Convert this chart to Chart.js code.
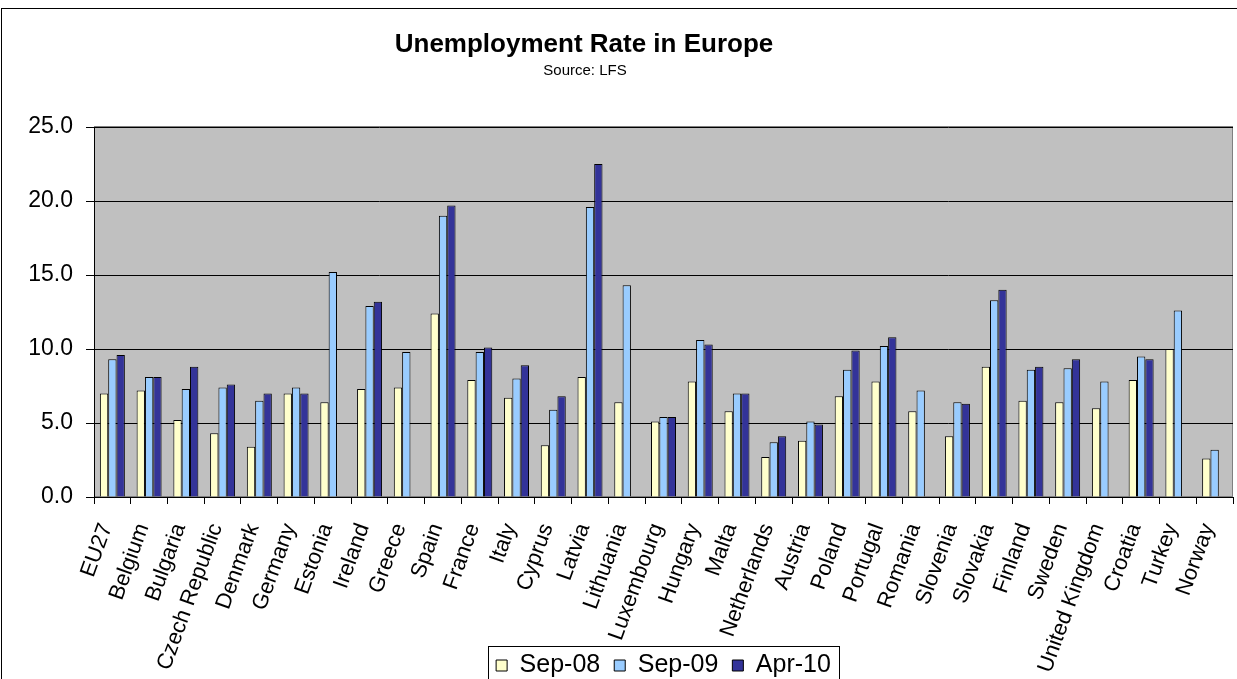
<!DOCTYPE html>
<html>
<head>
<meta charset="utf-8">
<title>Unemployment Rate in Europe</title>
<script src="https://cdn.jsdelivr.net/npm/chart.js@4.4.1/dist/chart.umd.min.js"></script>
<style>
  html, body { margin: 0; padding: 0; background: #fff; overflow: hidden; }
  #wrap { position: relative; width: 1237px; height: 688px; }
</style>
</head>
<body>
<div id="wrap"><canvas id="chart" width="1237" height="688"></canvas></div>
<script>
const categories = ["EU27", "Belgium", "Bulgaria", "Czech Republic", "Denmark", "Germany", "Estonia", "Ireland", "Greece", "Spain",
  "France", "Italy", "Cyprus", "Latvia", "Lithuania", "Luxembourg", "Hungary", "Malta", "Netherlands", "Austria",
  "Poland", "Portugal", "Romania", "Slovenia", "Slovakia", "Finland", "Sweden", "United Kingdom", "Croatia", "Turkey", "Norway"];

const sep08 = [7.0, 7.2, 5.2, 4.3, 3.4, 7.0, 6.4, 7.3, 7.4, 12.4, 7.9, 6.7, 3.5, 8.1, 6.4, 5.1, 7.8, 5.8, 2.7, 3.8,
  6.8, 7.8, 5.8, 4.1, 8.8, 6.5, 6.4, 6.0, 7.9, 10.0, 2.6];
const sep09 = [9.3, 8.1, 7.3, 7.4, 6.5, 7.4, 15.2, 12.9, 9.8, 19.0, 9.8, 8.0, 5.9, 19.6, 14.3, 5.4, 10.6, 7.0, 3.7, 5.1,
  8.6, 10.2, 7.2, 6.4, 13.3, 8.6, 8.7, 7.8, 9.5, 12.6, 3.2];
const apr10 = [9.6, 8.1, 8.8, 7.6, 7.0, 7.0, null, 13.2, null, 19.7, 10.1, 8.9, 6.8, 22.5, null, 5.4, 10.3, 7.0, 4.1, 4.9,
  9.9, 10.8, null, 6.3, 14.0, 8.8, 9.3, null, 9.3, null, null];

const seriesNames = ["Sep-08", "Sep-09", "Apr-10"];
const yTicks = [0, 5, 10, 15, 20, 25];

const chartTitle = "Unemployment Rate in Europe";
const chartSubtitle = "Source: LFS";

const FONT = "'Liberation Sans', Arial, sans-serif";

// grey plot area, outer frame, titles and the box round the legend
const decorations = {
  id: "decorations",
  afterLayout(chart) {
    // let the rotated country names run down past the legend top, like the original
    chart.scales.x.bottom = chart.height;
  },
  beforeDraw(chart) {
    const { ctx, chartArea: a } = chart;
    ctx.save();
    ctx.fillStyle = "#fff";
    ctx.fillRect(0, 0, chart.width, chart.height);
    ctx.fillStyle = "#C0C0C0";
    ctx.fillRect(a.left, a.top, a.right - a.left, a.bottom - a.top);
    ctx.strokeStyle = "#808080";
    ctx.lineWidth = 1;
    ctx.strokeRect(a.left + 0.5, a.top - 0.5, a.right - a.left - 1, a.bottom - a.top);
    ctx.restore();
  },
  afterDraw(chart) {
    const ctx = chart.ctx;
    ctx.save();
    ctx.strokeStyle = "#000";
    ctx.lineWidth = 1;
    ctx.strokeRect(1.5, 8.5, 1260, 720);

    ctx.fillStyle = "#000";
    ctx.textAlign = "center";
    ctx.textBaseline = "alphabetic";
    ctx.font = "bold 26px " + FONT;
    ctx.fillText(chartTitle, 584, 52);
    ctx.font = "15px " + FONT;
    ctx.fillText(chartSubtitle, 585, 75);

    const boxes = chart.legend.legendHitBoxes;
    if (boxes && boxes.length) {
      const first = boxes[0];
      const last = boxes[boxes.length - 1];
      const left = Math.round(first.left) - 7.5;
      const right = Math.round(last.left + last.width) + 8.5;
      const top = Math.round(first.top) - 6.5;
      ctx.strokeRect(left, top, right - left, 60);
    }
    ctx.restore();
  }
};

const ctx = document.getElementById("chart").getContext("2d");
new Chart(ctx, {
  type: "bar",
  data: {
    labels: categories,
    datasets: [
      { label: seriesNames[0], data: sep08, backgroundColor: "#FFFFCC", borderColor: "#000", borderWidth: 1 },
      { label: seriesNames[1], data: sep09, backgroundColor: "#99CCFF", borderColor: "#000", borderWidth: 1 },
      { label: seriesNames[2], data: apr10, backgroundColor: "#333399", borderColor: "#000", borderWidth: 1 }
    ]
  },
  options: {
    responsive: false,
    animation: false,
    layout: { padding: { top: 127, right: 4, left: 0, bottom: 0 } },
    datasets: { bar: { categoryPercentage: 0.68, barPercentage: 1.0 } },
    plugins: {
      title: { display: false },
      tooltip: { enabled: false },
      legend: {
        position: "bottom",
        fullSize: false,
        labels: {
          color: "#000",
          boxWidth: 11,
          boxHeight: 11,
          padding: 14,
          font: { family: FONT, size: 25 }
        }
      }
    },
    scales: {
      x: {
        grid: { offset: true, drawOnChartArea: false, drawTicks: true, tickLength: 7, color: "#000" },
        border: { color: "#000", width: 1 },
        ticks: {
          color: "#000",
          autoSkip: false,
          minRotation: 70,
          maxRotation: 70,
          padding: 16,
          labelOffset: -6,
          font: { family: FONT, size: 22 }
        },
        afterFit: function (scale) {
          scale.height = 142;
          scale.paddingLeft = 0;
          scale.paddingRight = 0;
        }
      },
      y: {
        min: 0,
        max: 25,
        afterBuildTicks: function (scale) { scale.ticks = yTicks.map(v => ({ value: v })); },
        grid: { color: "#000", tickLength: 8, lineWidth: 1 },
        border: { color: "#000", width: 1 },
        ticks: {
          color: "#000",
          padding: 13,
          font: { family: FONT, size: 23 },
          callback: v => v.toFixed(1)
        },
        afterFit: function (scale) { scale.width = 94; }
      }
    }
  },
  plugins: [decorations]
});
</script>
</body>
</html>
